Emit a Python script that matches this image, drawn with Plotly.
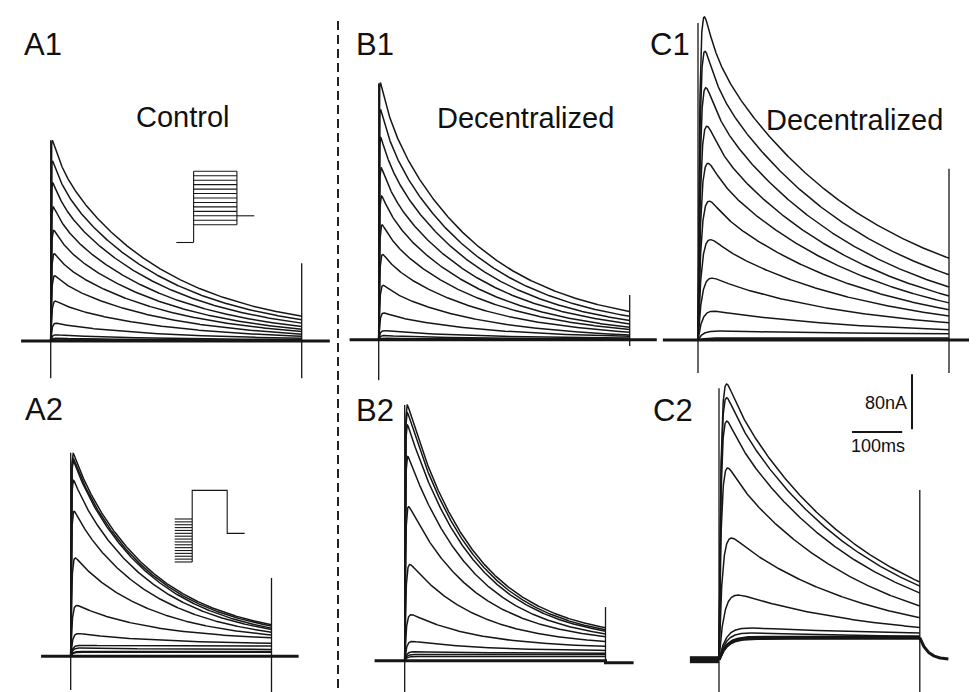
import numpy as np
import plotly.graph_objects as go

W, H = 977, 692
SX = 0.502    # px per ms
SY = 0.6875   # px per nA (80 nA bar = 55 px)

A1_peak = [292, 262, 230, 195, 161, 127, 95, 58, 26, 9, 4, 3]
A1_end  = [36, 31, 26, 21, 17, 14, 10, 7, 4, 2, 1, 0.5]
B1_peak = [374, 335, 294, 250, 209, 167, 124, 79, 39, 13, 6, 2]
B1_end  = [41, 34, 28, 23, 18, 15, 11, 7, 5, 2.5, 1, 0.3]
C1_peak = [470, 420, 367, 311, 257, 202, 146, 90, 42, 13, 3, 1.5]
C1_end  = [119, 95, 77, 64, 54, 44, 35, 25, 15, 9, 3, 1]
A2_peak = [295, 288, 284, 256, 211, 143, 74, 33, 16, 12, 7, 6]
A2_end  = [46, 44, 41, 39, 35, 31, 27, 19, 15, 10, 7, 6]
B2_peak = [372, 361, 343, 297, 224, 140, 67, 28, 13, 9, 6]
B2_end  = [48, 45, 43, 39, 35, 28, 21, 15, 11, 9, 6]
C2_peak = [401, 381, 347, 279, 177, 94, 46, 39, 33, 32, 31]
C2_end  = [113, 107, 97, 78, 61, 47, 39, 34, 33, 32, 31]

# capacitive transients [onset up, onset down, offset up, offset down] (nA)
A1_transient = [292, -54, 113, -54]
B1_transient = [373, -59, 65, -9]
C1_transient = [461, -48, 249, -48]
A2_transient = [296, -49, 114, -53]
B2_transient = [372, -57, 78, -5]
C2_transient = [395, -48, 247, -53]

TOP_PULSE_MS = 500
BOTTOM_PULSE_MS = 400
C2_sustained_nA = 32
C2_tail_tau_ms = 16

# voltage protocols (mV, ms)
A1_prot_times = [200, 500, 200]
A1_prot_hold = -60
A1_prot_steps = [-40, -35, -30, -25, -20, -15, -10, -5, 0, 5, 10, 15, 20]
A1_prot_return = -30
A2_prot_times = [200, 400, 200]
A2_prot_pre = [-120, -115, -110, -105, -100, -95, -90, -85, -80, -75, -70, -65, -60, -55, -50, -45]
A2_prot_test = 5
A2_prot_return = -70

# ---------------- panel layout and kinetics ----------------
panels = [
    dict(peak=A1_peak, end=A1_end, tr=A1_transient, T=TOP_PULSE_MS, onset_px=42.7, base_px=333,
         pre=59, post=56, post_level=0, tf=20, ts=219, w=0.12, r0=0.6, r1=3, rexp=1.5, inbase=True),
    dict(peak=B1_peak, end=B1_end, tr=B1_transient, T=TOP_PULSE_MS, onset_px=370.7, base_px=331.7,
         pre=58, post=54, post_level=0, tf=20, ts=199, w=0.12, r0=0.6, r1=3, rexp=1.5, inbase=True),
    dict(peak=C1_peak, end=C1_end, tr=C1_transient, T=TOP_PULSE_MS, onset_px=690, base_px=332,
         pre=70, post=56, post_level=0, tf=20, ts=315, w=0.2, r0=3.5, r1=11, rexp=1.2, inbase=True),
    dict(peak=A2_peak, end=A2_end, tr=A2_transient, T=BOTTOM_PULSE_MS, onset_px=62.7, base_px=648.3,
         pre=59, post=54, post_level=0, tf=20, ts=161, w=0.05, r0=1.0, r1=4, rexp=1.5, inbase=True),
    dict(peak=B2_peak, end=B2_end, tr=B2_transient, T=BOTTOM_PULSE_MS, onset_px=396.7, base_px=652.7,
         pre=60, post=56, post_level=-3, tf=20, ts=135, w=0.0, r0=1.0, r1=4, rexp=1.5, inbase=True),
    dict(peak=C2_peak, end=C2_end, tr=C2_transient, T=BOTTOM_PULSE_MS, onset_px=711, base_px=651.7,
         pre=58, post=57, post_level=0, tf=20, ts=279, w=0.1, r0=4.0, r1=18, rexp=2.5, inbase=False),
]

LINE = '#161616'
FONT = 'Liberation Sans, Arial, Helvetica, sans-serif'


def curve(t, P, E, T, tf, ts, w, tr):
    g = w * np.exp(-T / tf) + (1 - w) * np.exp(-T / ts)
    dec = w * np.exp(-t / tf) + (1 - w) * np.exp(-t / ts)
    rise = 1 - np.exp(-t / tr)
    Pp = P
    y = None
    for _ in range(5):
        S = (E - Pp * g) / (1 - g)
        y = rise * (S + (Pp - S) * dec)
        m = y.max()
        if m <= 0:
            break
        Pp = Pp * P / m if P > E else Pp
    return y


fig = go.Figure()


def ax(i):
    return ('x', 'y') if i == 1 else ('x%d' % i, 'y%d' % i)


for i, p in enumerate(panels, start=1):
    xa, ya = ax(i)
    T = p['T']
    t = np.concatenate([np.linspace(0, 40, 161), np.linspace(40, T, 500)[1:]])
    pmax = max(p['peak'])
    # baseline / holding current
    if p['inbase']:
        fig.add_trace(go.Scatter(x=[-p['pre'], 0, T, T, T + p['post']],
                                 y=[0, 0, 0, p['post_level'], p['post_level']],
                                 mode='lines', xaxis=xa, yaxis=ya,
                                 line=dict(color=LINE, width=3), hoverinfo='skip'))
    else:
        fig.add_trace(go.Scatter(x=[-p['pre'], 0], y=[0, 0], mode='lines', xaxis=xa, yaxis=ya,
                                 line=dict(color=LINE, width=7), hoverinfo='skip'))
        tt = np.linspace(T, T + p['post'], 60)
        fig.add_trace(go.Scatter(x=tt, y=C2_sustained_nA * np.exp(-(tt - T) / C2_tail_tau_ms),
                                 mode='lines', xaxis=xa, yaxis=ya,
                                 line=dict(color=LINE, width=3), hoverinfo='skip'))
    # current traces
    for P, E in zip(p['peak'], p['end']):
        tr = p['r0'] + (p['r1'] - p['r0']) * (1 - P / pmax) ** p['rexp']
        y = curve(t, P, E, T, p['tf'], p['ts'], p['w'], tr)
        width = 1.5
        if not p['inbase'] and P <= C2_sustained_nA + 2:
            width = 2.8
        fig.add_trace(go.Scatter(x=t, y=y, mode='lines', xaxis=xa, yaxis=ya,
                                 line=dict(color=LINE, width=width), hoverinfo='skip'))
    # capacitive transients
    on_up, on_dn, off_up, off_dn = p['tr']
    fig.add_trace(go.Scatter(x=[0, 0, None, T, T], y=[on_dn, on_up, None, off_dn, off_up],
                             mode='lines', xaxis=xa, yaxis=ya,
                             line=dict(color=LINE, width=1.3), hoverinfo='skip'))

# scale bars in the C2 frame
c2 = panels[5]
bar_x0 = (844 - c2['onset_px']) / SX
bar_y = (c2['base_px'] - 424) / SY
vbar_x = (904 - c2['onset_px']) / SX
fig.add_trace(go.Scatter(x=[bar_x0, bar_x0 + 100], y=[bar_y, bar_y], mode='lines',
                         xaxis='x6', yaxis='y6', line=dict(color=LINE, width=2), hoverinfo='skip'))
fig.add_trace(go.Scatter(x=[vbar_x, vbar_x], y=[bar_y + 4, bar_y + 4 + 80], mode='lines',
                         xaxis='x6', yaxis='y6', line=dict(color=LINE, width=2), hoverinfo='skip'))

# protocol icons
t0, t1, t2 = A1_prot_times
xs, ys = [0, t0, None], [A1_prot_hold, A1_prot_hold, None]
xs += [t0, t0, None]; ys += [A1_prot_hold, max(A1_prot_steps), None]
for v in A1_prot_steps:
    xs += [t0, t0 + t1, None]; ys += [v, v, None]
xs += [t0 + t1, t0 + t1, None]; ys += [max(A1_prot_steps), min(A1_prot_steps), None]
xs += [t0 + t1, t0 + t1 + t2]; ys += [A1_prot_return, A1_prot_return]
fig.add_trace(go.Scatter(x=xs, y=ys, mode='lines', xaxis='x7', yaxis='y7',
                         line=dict(color=LINE, width=1.1), hoverinfo='skip'))

t0, t1, t2 = A2_prot_times
xs, ys = [], []
for v in A2_prot_pre:
    xs += [0, t0, None]; ys += [v, v, None]
xs += [t0, t0, t0 + t1, t0 + t1, t0 + t1 + t2]
ys += [min(A2_prot_pre), A2_prot_test, A2_prot_test, A2_prot_return, A2_prot_return]
fig.add_trace(go.Scatter(x=xs, y=ys, mode='lines', xaxis='x8', yaxis='y8',
                         line=dict(color=LINE, width=1.1), hoverinfo='skip'))


def rng_x(origin_px, ppu):
    return [-origin_px / ppu, (W - origin_px) / ppu]


def rng_y(origin_px, ppu):
    return [-(H - origin_px) / ppu, origin_px / ppu]


layout = dict(width=W, height=H, margin=dict(l=0, r=0, t=0, b=0),
              paper_bgcolor='white', plot_bgcolor='white', showlegend=False)
ranges = [(rng_x(p['onset_px'], SX), rng_y(p['base_px'], SY)) for p in panels]
ranges.append((rng_x(168.3, 0.0866), rng_y(216.7 - 40 * 0.89, 0.89)))
ranges.append((rng_x(166.7, 0.0875), rng_y(511 - 45 * 0.573, 0.573)))
for i, (xrg, yrg) in enumerate(ranges, start=1):
    sfx = '' if i == 1 else str(i)
    xd = dict(range=xrg, visible=False, showgrid=False, zeroline=False, fixedrange=True,
              anchor='y' + sfx)
    yd = dict(range=yrg, visible=False, showgrid=False, zeroline=False, fixedrange=True,
              anchor='x' + sfx)
    if i > 1:
        xd['overlaying'] = 'x'
        yd['overlaying'] = 'y'
    layout['xaxis' + sfx] = xd
    layout['yaxis' + sfx] = yd

layout['shapes'] = [dict(type='line', xref='paper', yref='paper', x0=330 / W, x1=330 / W,
                         y0=1 - 13 / H, y1=0, line=dict(color='#222', width=2, dash='9px,5px'))]


def ann(text, cx, cy, size):
    return dict(text=text, x=cx / W, y=1 - cy / H, xref='paper', yref='paper', showarrow=False,
                xanchor='center', yanchor='middle', font=dict(family=FONT, size=size, color='#111'))


layout['annotations'] = [
    ann('A1', 35, 36, 31), ann('B1', 366.7, 36, 31), ann('C1', 661.5, 36, 31),
    ann('A2', 35.8, 401, 31), ann('B2', 366.7, 402, 31), ann('C2', 665, 402, 31),
    ann('Control', 175, 109, 29), ann('Decentralized', 517.5, 110, 29),
    ann('Decentralized', 846.7, 112, 29),
    ann('80nA', 877.5, 395, 18), ann('100ms', 869.5, 437.5, 18),
]

fig.update_layout(**layout)
fig.write_html('out.html')
